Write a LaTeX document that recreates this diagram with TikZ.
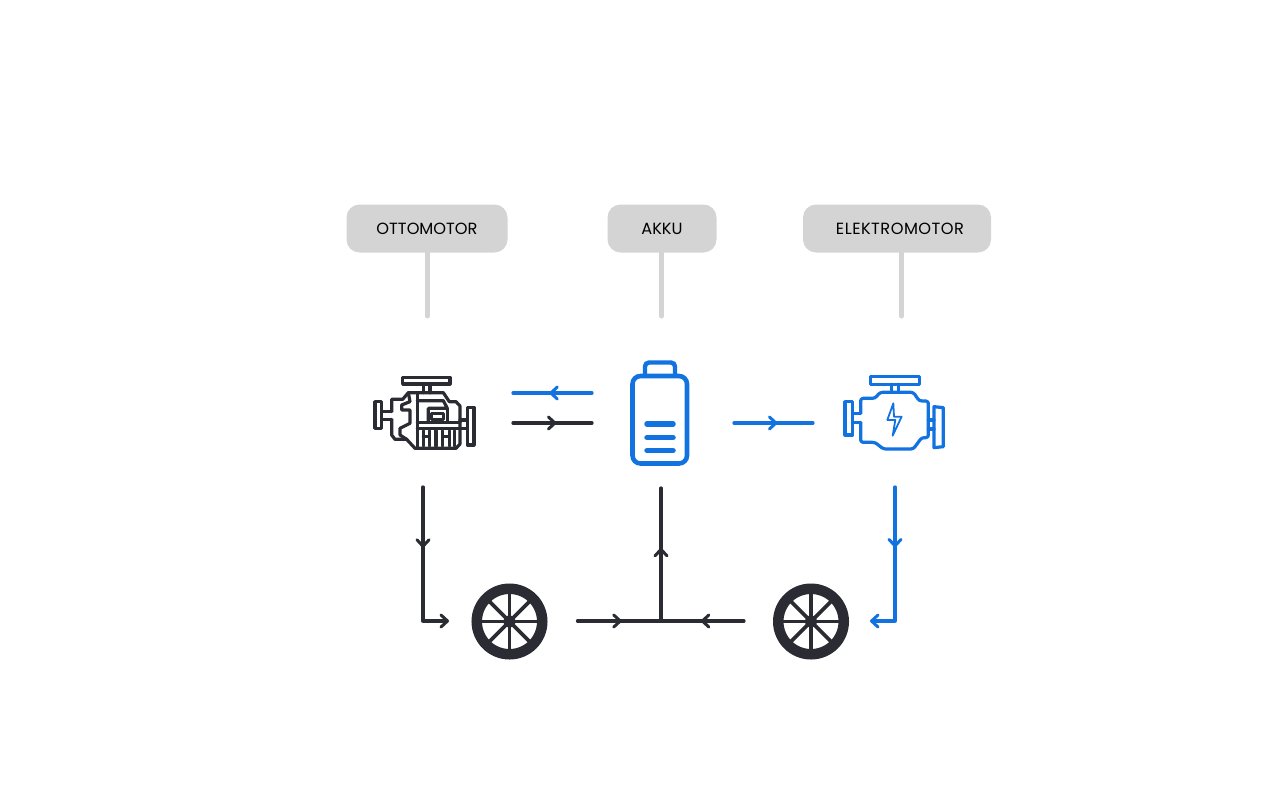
\documentclass[tikz,border=0pt]{standalone}
\usepackage{fontspec}
\setmainfont{Poppins}
\usetikzlibrary{arrows.meta,decorations.markings}
\definecolor{ink}{HTML}{2B2B33}
\definecolor{azure}{HTML}{1273E0}
\definecolor{pale}{HTML}{D4D4D4}
\tikzset{
  labelbox/.style={fill=pale,rounded corners=13pt,inner sep=0pt,minimum height=48pt,font=\fontsize{16.2}{18}\selectfont,text=black},
  stalk/.style={draw=pale,line width=5pt,line cap=round},
  flow/.style={line width=3.3pt,line cap=round,line join=round},
  chevron/.style={postaction={decorate,decoration={markings,mark=at position #1 with {\arrow{Straight Barb[length=6.5pt,width=12pt,line width=3pt,round]}}}}},
  endtip/.style={-{Straight Barb[length=6.5pt,width=12pt,line width=3pt,round]}},
  icon/.style={line width=3.2pt,line join=round,line cap=round},
  tyre/.style={circle,draw=ink,line width=10.5pt,minimum size=65.5pt,inner sep=0pt},
  spoke/.style={draw=ink,line width=3.6pt}
}
\begin{document}
\begin{tikzpicture}[x=1pt,y=-1pt]
\useasboundingbox (0,0) rectangle (1280,803);
% labels
\node[labelbox,minimum width=161pt] (otto) at (427,228.5) {OTTOMOTOR};
\node[labelbox,minimum width=109pt] (akku) at (662,228.5) {AKKU};
\node[labelbox,minimum width=188pt] (elek) at (897,228.5) {\hspace*{6pt}\addfontfeature{LetterSpace=3}ELEKTROMOTOR};
\coordinate (ottoS) at (427.5,252);\coordinate (ottoE) at (427.5,316);
\coordinate (akkuS) at (661.5,252);\coordinate (akkuE) at (661.5,316);
\coordinate (elekS) at (901.5,252);\coordinate (elekE) at (901.5,316);
\draw[stalk] (ottoS) -- (ottoE);
\draw[stalk] (akkuS) -- (akkuE);
\draw[stalk] (elekS) -- (elekE);
% combustion engine icon
\begin{scope}[shift={(360,360)},x=0.3333pt,y=-0.3333pt,icon,draw=ink]
\draw (128,52) rectangle (270,72);
\draw (190,72) -- (190,98) (210,72) -- (210,98);
\draw (45,125) rectangle (65,205);
\draw (65,155) -- (95,155) (65,178) -- (95,178);
\draw (95,155) -- (95,118) -- (128,118) -- (145,98) -- (250,98) -- (268,125) -- (288,125) -- (300,138) -- (300,252) -- (288,265) -- (165,265) -- (140,238) -- (105,238) -- (95,225) -- (95,178);
\draw (145,98) -- (150,125) -- (125,135) -- (125,150) -- (150,150) -- (150,190) -- (120,205) -- (120,225) -- (140,238);
\draw (172,100) -- (172,262);
\draw (172,122) -- (250,122) -- (262,145) -- (205,145) -- (205,187);
\draw (215,160) -- (215,178) -- (250,178) -- (250,160) -- cycle;
\draw (262,145) -- (262,187) (172,187) -- (300,187);
\draw (172,205) -- (300,205);
\draw (190,212) -- (190,258) (208,212) -- (208,258) (190,230) -- (208,230);
\draw (228,212) -- (228,258);
\draw (248,212) -- (248,258) (268,212) -- (268,258) (248,230) -- (268,230);
\draw (284,212) -- (284,258);
\draw (322,142) -- (342,142) -- (342,255) -- (322,255) -- cycle;
\draw (300,180) -- (322,180) (300,205) -- (322,205);
\end{scope}
% electric engine icon
\begin{scope}[shift={(830,365)},x=0.3333pt,y=-0.3333pt,icon,draw=azure]
\draw (122,35) rectangle (268,58);
\draw (185,58) -- (185,80) (205,58) -- (205,80);
\draw (45,110) rectangle (68,210);
\draw (68,145) -- (92,145) (68,172) -- (92,172);
\draw[rounded corners=2.5pt] (92,145) -- (92,100) -- (135,100) -- (150,82) -- (250,82) -- (268,108) -- (295,108) -- (295,218) -- (275,218) -- (250,252) -- (160,252) -- (135,232) -- (92,232) -- (92,172);
\draw (312,125) -- (340,128) -- (340,245) -- (312,248) -- cycle;
\draw (295,165) -- (312,165) (295,192) -- (312,192);
\draw[line width=1.8pt] (190,115) -- (172,165) -- (196,165) -- (188,212) -- (215,155) -- (192,155) -- cycle;
\end{scope}
% battery icon
\draw[azure,line width=4.4pt,rounded corners=4pt] (645,376) -- (645,362.5) -- (675,362.5) -- (675,376);
\draw[azure,line width=4.6pt,rounded corners=8pt] (632.5,376) rectangle (687,463.5);
\foreach \yy in {424,437.5,450.5}{\draw[azure,line width=5.5pt,line cap=round] (647,\yy) -- (673,\yy);}
% wheels
\node[tyre] (wheelA) at (509.5,621.5) {};
\node[tyre] (wheelB) at (811,621.5) {};
\foreach \w in {wheelA,wheelB}{
  \foreach \a in {0,45,...,135}{\draw[spoke] (\w) ++(\a:29pt) -- ++(\a+180:58pt);}
  \fill[ink] (\w) circle (6pt);
}
% connector ends
\coordinate (bL) at (513,393);\coordinate (bR) at (592,393);
\coordinate (kL) at (513,423);\coordinate (kR) at (592,423);
\coordinate (cL) at (734,423);\coordinate (cR) at (813,423);
\coordinate (oTop) at (423,487);\coordinate (oIn) at (449,621);
\coordinate (eTop) at (895,487);\coordinate (eIn) at (870,621);
\coordinate (tL) at (577.5,621);\coordinate (tR) at (744,621);\coordinate (tJ) at (661,621);\coordinate (tUp) at (661,488);
% connectors
\draw[flow,azure,chevron=0.54] (bR) -- (bL);
\draw[flow,ink,chevron=0.55] (kL) -- (kR);
\draw[flow,azure,chevron=0.55] (cL) -- (cR);
\draw[flow,ink,endtip,chevron=0.38] (oTop) |- (oIn);
\draw[flow,azure,endtip,chevron=0.38] (eTop) |- (eIn);
\draw[flow,ink,chevron=0.53] (tL) -- (tJ);
\draw[flow,ink,chevron=0.52] (tR) -- (tJ);
\draw[flow,ink,chevron=0.55] (tJ) -- (tUp);
\end{tikzpicture}
\end{document}
